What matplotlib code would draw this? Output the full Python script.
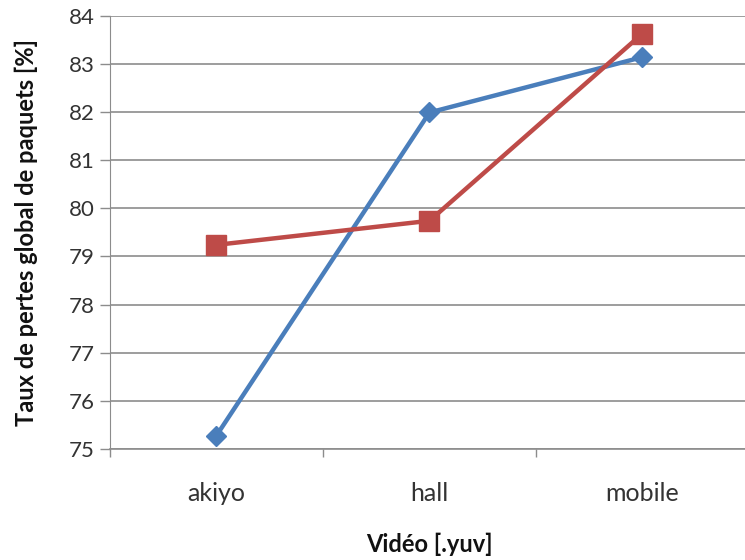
import matplotlib
matplotlib.use("Agg")
import matplotlib.pyplot as plt

# data
videos = ['akiyo', 'hall', 'mobile']
serie_bleue = [75.28, 81.99, 83.14]
serie_rouge = [79.24, 79.74, 83.63]
y_ticks = list(range(75, 85))

plt.rcParams['font.family'] = ['Lato', 'DejaVu Sans']

fig = plt.figure(figsize=(7.45, 5.6), dpi=100)
ax = fig.add_axes([110 / 745, 111 / 560, 639 / 745, 433.3 / 560])

pos = list(range(len(videos)))
ax.plot(pos, serie_bleue, color='#4A7EBB', linewidth=3.2, marker='D',
        markersize=10, zorder=3)
ax.plot(pos, serie_rouge, color='#BE4B48', linewidth=3.2, marker='s',
        markersize=14, zorder=4)

ax.set_xlim(-0.5, 2.5)
ax.set_ylim(75, 84)

# y axis
ax.set_yticks(y_ticks)
ax.set_yticklabels([str(v) for v in y_ticks])
ax.yaxis.grid(True, color='#8C8C8C', linewidth=1.2)
ax.tick_params(axis='y', length=7, width=1, color='#8C8C8C',
               labelsize=16, labelcolor='#333333', pad=4)

# x axis: labels at categories, ticks between them
ax.set_xticks(pos)
ax.set_xticklabels(videos)
ax.set_xticks([p - 0.5 for p in pos] + [2.5], minor=True)
ax.tick_params(axis='x', which='major', length=0, labelsize=18,
               labelcolor='#333333', pad=24)
ax.tick_params(axis='x', which='minor', length=6, width=1, color='#8C8C8C')

for side in ['top', 'right']:
    ax.spines[side].set_visible(False)
ax.spines['left'].set_color('#8C8C8C')
ax.spines['bottom'].set_color('#8C8C8C')
ax.spines['bottom'].set_linewidth(1.2)
ax.set_axisbelow(True)

ax.set_ylabel('Taux de pertes global de paquets [%]', fontsize=17,
              fontweight='bold', color='#111111', labelpad=22)
ax.set_xlabel('Vidéo [.yuv]', fontsize=17, fontweight='bold',
              color='#111111', labelpad=20)

fig.savefig('out.png', dpi=100)
